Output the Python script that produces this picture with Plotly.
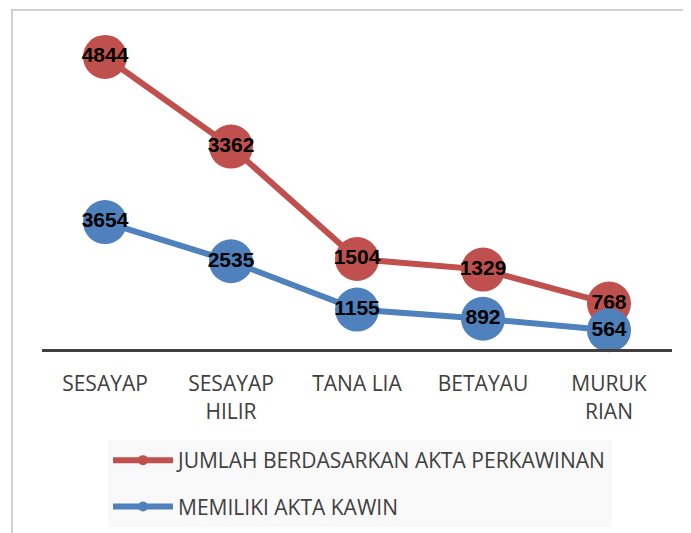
import plotly.graph_objects as go

# Data
kecamatan = ['SESAYAP', 'SESAYAP<br>HILIR', 'TANA LIA', 'BETAYAU', 'MURUK<br>RIAN']
akta_perkawinan = [4844, 3362, 1504, 1329, 768]
akta_kawin = [3654, 2535, 1155, 892, 564]

RED = '#C0504D'
BLUE = '#4F81BD'
FONT = 'Open Sans'

# page has an 8px body margin, so the figure sits at (8, 8)
OFF = 8
W, H = 691 - OFF, 533 - OFF
# plot area on screen: x 42..672, y 44..533 (legend kept inside, so no margin push)
L, R, T, B = 42 - OFF, 19, 44 - OFF, 0
ZERO = 350  # screen y of the value 0 (the category axis)
K_RED = 0.0605   # px per unit, left scale
K_BLUE = 0.0350  # px per unit, right scale


def px_x(p):
    return (p - OFF - L) / (W - L - R)


def px_y(p):
    return (H - B - (p - OFF)) / (H - B - T)


top_px, bot_px = T + OFF, H - B + OFF
red_range = [-(bot_px - ZERO) / K_RED, (ZERO - top_px) / K_RED]
blue_range = [-(bot_px - ZERO) / K_BLUE, (ZERO - top_px) / K_BLUE]

label_font = dict(family='Liberation Sans', size=21, color='black', weight='bold')

fig = go.Figure()

fig.add_trace(go.Scatter(
    x=kecamatan, y=akta_perkawinan,
    mode='lines+markers+text',
    text=[str(v) for v in akta_perkawinan],
    textposition='middle center',
    textfont=label_font,
    line=dict(color=RED, width=6),
    marker=dict(color=RED, size=44),
    cliponaxis=False,
    showlegend=False,
))

fig.add_trace(go.Scatter(
    x=kecamatan, y=akta_kawin,
    mode='lines+markers+text',
    text=[str(v) for v in akta_kawin],
    textposition='middle center',
    textfont=label_font,
    line=dict(color=BLUE, width=6),
    marker=dict(color=BLUE, size=44),
    cliponaxis=False,
    showlegend=False,
    yaxis='y2',
))

# legend entries with small markers
fig.add_trace(go.Scatter(
    x=[None], y=[None], mode='lines+markers',
    name='JUMLAH BERDASARKAN AKTA PERKAWINAN',
    line=dict(color=RED, width=6), marker=dict(color=RED, size=10),
    legendgroup='a',
))
fig.add_trace(go.Scatter(
    x=[None], y=[None], mode='lines+markers',
    name='MEMILIKI AKTA KAWIN',
    line=dict(color=BLUE, width=6), marker=dict(color=BLUE, size=10),
    legendgroup='b',
))

fig.update_layout(
    width=W, height=H,
    margin=dict(l=L, r=R, t=T, b=B),
    paper_bgcolor='white',
    plot_bgcolor='white',
    font=dict(family=FONT, size=21, color='#404040'),
    xaxis=dict(
        type='category',
        range=[-0.5, 4.5],
        anchor='free', position=px_y(ZERO),
        showline=True, linecolor='#404040', linewidth=3,
        showgrid=False, ticks='', zeroline=False,
        tickfont=dict(family=FONT, size=21, color='#404040'),
        ticklabelstandoff=14,
    ),
    yaxis=dict(range=red_range, visible=False, showgrid=False, zeroline=False),
    yaxis2=dict(range=blue_range, visible=False, showgrid=False, zeroline=False,
                overlaying='y', side='right'),
    legend=dict(
        x=px_x(108), y=px_y(440), xanchor='left', yanchor='top',
        bgcolor='#F9F9F9',
        font=dict(family=FONT, size=21, color='#404040'),
        tracegroupgap=16,
        itemwidth=60,
    ),
    shapes=[dict(
        type='rect', xref='paper', yref='paper',
        x0=px_x(12), y0=px_y(10), x1=px_x(720), y1=px_y(560),
        line=dict(color='#D0D0D0', width=2), fillcolor='rgba(0,0,0,0)',
        layer='below',
    )],
)

fig.write_html('out.html')
